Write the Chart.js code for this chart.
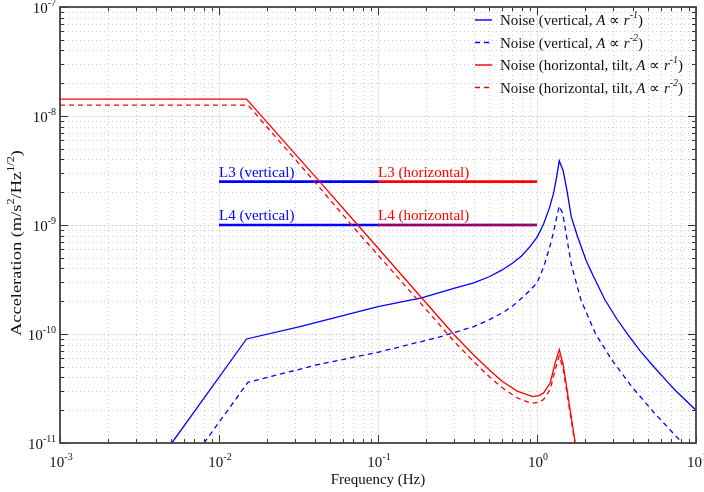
<!DOCTYPE html>
<html>
<head>
<meta charset="utf-8">
<script src="https://cdn.jsdelivr.net/npm/chart.js@4.4.1/dist/chart.umd.min.js"></script>
<style>
  html, body { margin: 0; padding: 0; background: #fff; }
  #wrap { width: 704px; height: 492px; }
</style>
</head>
<body>
<div id="wrap"><canvas id="noiseChart"></canvas></div>
<script>
// --- data (frequency in Hz, acceleration in m/s^2/Hz^1/2) ---
const freqVertR1 = [0.00505, 0.0149, 0.0323, 0.1, 0.188, 0.3, 0.4, 0.5, 0.6, 0.7, 0.8, 0.9, 1.0, 1.1, 1.2, 1.27, 1.33, 1.38, 1.46, 1.55, 1.64, 1.8, 2.04, 2.26, 2.68, 3.17, 3.74, 4.45, 5.5, 6.55, 7.37, 10];
const accVertR1 = [1e-11, 9.0e-11, 1.17e-10, 1.78e-10, 2.15e-10, 2.62e-10, 2.95e-10, 3.35e-10, 3.85e-10, 4.45e-10, 5.2e-10, 6.3e-10, 7.7e-10, 1.02e-9, 1.45e-9, 1.95e-9, 2.77e-9, 3.88e-9, 3.15e-9, 2.0e-9, 1.2e-9, 7.8e-10, 4.7e-10, 3.4e-10, 2.05e-10, 1.38e-10, 9.8e-11, 7.0e-11, 4.9e-11, 3.7e-11, 3.06e-11, 2.0e-11];

const freqVertR2 = [0.00805, 0.0152, 0.041, 0.1, 0.245, 0.4, 0.5, 0.614, 0.7, 0.82, 0.9, 1.0, 1.1, 1.2, 1.27, 1.33, 1.38, 1.45, 1.5, 1.64, 1.89, 2.33, 2.95, 3.94, 5.5, 8.1];
const accVertR2 = [1e-11, 3.6e-11, 5.2e-11, 6.8e-11, 9.4e-11, 1.17e-10, 1.35e-10, 1.58e-10, 1.8e-10, 2.2e-10, 2.5e-10, 2.95e-10, 4.1e-10, 6.2e-10, 8.6e-10, 1.18e-9, 1.49e-9, 1.28e-9, 9.6e-10, 4.4e-10, 2.05e-10, 1.01e-10, 5.8e-11, 3.29e-11, 1.87e-11, 1.02e-11];

const freqHorR1 = [0.001, 0.0149, 0.0431, 0.0751, 0.188, 0.298, 0.398, 0.5, 0.6, 0.75, 0.94, 1.03, 1.1, 1.21, 1.3, 1.38, 1.46, 1.74];
const accHorR1 = [1.43e-8, 1.43e-8, 2.49e-9, 9.9e-10, 2.15e-10, 1.0e-10, 6.45e-11, 4.7e-11, 3.7e-11, 2.99e-11, 2.66e-11, 2.72e-11, 2.88e-11, 3.55e-11, 5.4e-11, 7.2e-11, 5.25e-11, 1e-11];

const freqHorR2 = [0.001, 0.0152, 0.04, 0.0685, 0.188, 0.298, 0.398, 0.5, 0.6, 0.75, 0.92, 1.03, 1.1, 1.21, 1.3, 1.38, 1.46, 1.73];
const accHorR2 = [1.26e-8, 1.26e-8, 2.49e-9, 9.9e-10, 1.87e-10, 8.7e-11, 5.6e-11, 4.07e-11, 3.24e-11, 2.6e-11, 2.31e-11, 2.37e-11, 2.51e-11, 3.09e-11, 4.68e-11, 6.3e-11, 4.8e-11, 1e-11];

// requirement levels
const levelNames = ['L3', 'L4'];
const levelValues = [2.5e-9, 1e-9];
const levelVertFreq = [[0.01, 0.1], [0.01, 1]];
const levelHorFreq = [[0.1, 1], [0.1, 1]];

// axes
const xTickPowers = [-3, -2, -1, 0, 1];
const yTickPowers = [-11, -10, -9, -8, -7];

const legendSetting = ['vertical', 'vertical', 'horizontal, tilt', 'horizontal, tilt'];
const legendExp = ['-1', '-2', '-1', '-2'];

const BLUE = '#0000ff';
const RED = '#ff0000';
const serif = '"Liberation Serif", "Times New Roman", serif';

const pts = (f, a) => f.map((x, i) => ({ x: x, y: a[i] }));

function measureRuns(ctx, runs) {
  let total = 0;
  runs.forEach(r => { ctx.font = r.font; r.w = ctx.measureText(r.t).width; total += r.w; });
  return total;
}

function drawRuns(ctx, runs, x, y, align) {
  const total = measureRuns(ctx, runs);
  let cx = align === 'center' ? x - total / 2 : (align === 'right' ? x - total : x);
  ctx.textAlign = 'left';
  runs.forEach(r => { ctx.font = r.font; ctx.fillText(r.t, cx, y + (r.dy || 0)); cx += r.w; });
  return total;
}

const reg = s => s + 'px ' + serif;
const ital = s => 'italic ' + s + 'px ' + serif;

const gridPlugin = {
  id: 'logGrid',
  beforeDatasetsDraw(chart) {
    const { ctx, chartArea: a, scales: { x, y } } = chart;
    ctx.save();
    ctx.lineWidth = 1;
    for (let p = xTickPowers[0]; p < xTickPowers[xTickPowers.length - 1]; p++) {
      for (let k = 1; k <= 9; k++) {
        const px = Math.round(x.getPixelForValue(k * Math.pow(10, p))) + 0.5;
        if (k === 1) {
          ctx.setLineDash([]); ctx.strokeStyle = '#efefef';
          ctx.beginPath(); ctx.moveTo(px, a.top); ctx.lineTo(px, a.bottom); ctx.stroke();
        }
        ctx.setLineDash([1, 3]); ctx.strokeStyle = '#cdcdcd';
        ctx.beginPath(); ctx.moveTo(px, a.top); ctx.lineTo(px, a.bottom); ctx.stroke();
      }
    }
    for (let p = yTickPowers[0]; p < yTickPowers[yTickPowers.length - 1]; p++) {
      for (let k = 1; k <= 9; k++) {
        const py = Math.round(y.getPixelForValue(k * Math.pow(10, p))) + 0.5;
        if (k === 1) {
          ctx.setLineDash([]); ctx.strokeStyle = '#efefef';
          ctx.beginPath(); ctx.moveTo(a.left, py); ctx.lineTo(a.right, py); ctx.stroke();
        }
        ctx.setLineDash([1, 3]); ctx.strokeStyle = '#cdcdcd';
        ctx.beginPath(); ctx.moveTo(a.left, py); ctx.lineTo(a.right, py); ctx.stroke();
      }
    }
    ctx.restore();
  },
  afterDatasetsDraw(chart) {
    const { ctx, chartArea: a, scales: { x, y } } = chart;
    ctx.save();
    ctx.setLineDash([]);
    // ticks, inward on all four sides
    ctx.strokeStyle = '#333';
    ctx.lineWidth = 1;
    const xMax = Math.pow(10, xTickPowers[xTickPowers.length - 1]) * 1.0001;
    const yMax = Math.pow(10, yTickPowers[yTickPowers.length - 1]) * 1.0001;
    for (let p = xTickPowers[0]; p <= xTickPowers[xTickPowers.length - 1]; p++) {
      for (let k = 1; k <= 9; k++) {
        const v = k * Math.pow(10, p);
        if (v > xMax) break;
        const px = Math.round(x.getPixelForValue(v)) + 0.5;
        const len = k === 1 ? 8 : 4;
        ctx.beginPath();
        ctx.moveTo(px, a.bottom); ctx.lineTo(px, a.bottom - len);
        ctx.moveTo(px, a.top); ctx.lineTo(px, a.top + len);
        ctx.stroke();
      }
    }
    for (let p = yTickPowers[0]; p <= yTickPowers[yTickPowers.length - 1]; p++) {
      for (let k = 1; k <= 9; k++) {
        const v = k * Math.pow(10, p);
        if (v > yMax) break;
        const py = Math.round(y.getPixelForValue(v)) + 0.5;
        const len = k === 1 ? 8 : 4;
        ctx.beginPath();
        ctx.moveTo(a.left, py); ctx.lineTo(a.left + len, py);
        ctx.moveTo(a.right, py); ctx.lineTo(a.right - len, py);
        ctx.stroke();
      }
    }
    // frame
    ctx.strokeStyle = '#444';
    ctx.lineWidth = 1.8;
    ctx.strokeRect(a.left, a.top, a.right - a.left, a.bottom - a.top);

    // tick labels
    ctx.fillStyle = '#111';
    ctx.textBaseline = 'alphabetic';
    xTickPowers.forEach(p => {
      const px = x.getPixelForValue(Math.pow(10, p));
      drawRuns(ctx, [{ t: '10', font: reg(15) }, { t: String(p), font: reg(10), dy: -7 }], px + 1, a.bottom + 24, 'center');
    });
    yTickPowers.forEach(p => {
      const py = y.getPixelForValue(Math.pow(10, p));
      drawRuns(ctx, [{ t: '10', font: reg(15) }, { t: String(p), font: reg(10), dy: -7 }], a.left - 4, py + 6, 'right');
    });

    // axis titles
    drawRuns(ctx, [{ t: 'Frequency (Hz)', font: reg(15) }], (a.left + a.right) / 2, a.bottom + 41, 'center');
    const yTitle = [
      { t: 'Acceleration (m/s', font: reg(15) },
      { t: '2', font: reg(10), dy: -7 },
      { t: '/Hz', font: reg(15) },
      { t: '1/2', font: reg(10), dy: -7 },
      { t: ')', font: reg(15) }
    ];
    const yTitleLen = measureRuns(ctx, yTitle);
    ctx.save();
    ctx.translate(21, 243);
    ctx.rotate(-Math.PI / 2);
    ctx.scale(186 / yTitleLen, 1);
    drawRuns(ctx, yTitle, 0, 0, 'center');
    ctx.restore();

    // level labels
    levelNames.forEach((n, i) => {
      const py = y.getPixelForValue(levelValues[i]) - 5;
      ctx.fillStyle = BLUE;
      drawRuns(ctx, [{ t: n + ' (vertical)', font: reg(15) }], x.getPixelForValue(levelVertFreq[i][0]), py, 'left');
      ctx.fillStyle = RED;
      drawRuns(ctx, [{ t: n + ' (horizontal)', font: reg(15) }], x.getPixelForValue(levelHorFreq[i][0]), py, 'left');
    });

    // legend
    const lx = 475, ly0 = 25, step = 22.5;
    legendSetting.forEach((s, i) => {
      const yy = ly0 + i * step;
      ctx.strokeStyle = i < 2 ? BLUE : RED;
      ctx.lineWidth = 1.4;
      ctx.setLineDash(i % 2 ? [5, 4] : []);
      ctx.beginPath(); ctx.moveTo(lx, yy - 5); ctx.lineTo(lx + 17, yy - 5); ctx.stroke();
      ctx.setLineDash([]);
      ctx.fillStyle = '#111';
      drawRuns(ctx, [
        { t: 'Noise (' + s + ', ', font: reg(15) },
        { t: 'A', font: ital(15) },
        { t: ' \u221d ', font: reg(15) },
        { t: 'r', font: ital(15) },
        { t: legendExp[i], font: ital(10), dy: -7 },
        { t: ')', font: reg(15) }
      ], lx + 25, yy, 'left');
    });
    ctx.restore();
  }
};

const curve = (f, a, color, dashed, order) => ({
  data: pts(f, a),
  borderColor: color,
  borderWidth: 1.3,
  borderDash: dashed ? [5, 4] : [],
  pointRadius: 0,
  tension: 0,
  order: order
});

const levelLine = (f, v, color, width, order) => ({
  data: f.map(fx => ({ x: fx, y: v })),
  borderColor: color,
  borderWidth: width,
  pointRadius: 0,
  tension: 0,
  order: order
});

const datasets = [
  curve(freqHorR1, accHorR1, RED, false, 1),
  curve(freqHorR2, accHorR2, RED, true, 2),
  curve(freqVertR1, accVertR1, BLUE, false, 3),
  curve(freqVertR2, accVertR2, BLUE, true, 4),
  levelLine(levelHorFreq[0], levelValues[0], RED, 2.6, 5),
  levelLine(levelHorFreq[1], levelValues[1], 'rgba(255,0,0,0.6)', 2.6, 5),
  levelLine(levelVertFreq[0], levelValues[0], BLUE, 2.6, 6),
  levelLine(levelVertFreq[1], levelValues[1], BLUE, 2.6, 6)
];

new Chart(document.getElementById('noiseChart'), {
  type: 'line',
  data: { datasets: datasets },
  options: {
    responsive: true,
    maintainAspectRatio: false,
    animation: false,
    layout: { padding: { left: 60, right: 8, top: 7, bottom: 49 } },
    plugins: { legend: { display: false }, tooltip: { enabled: false } },
    scales: {
      x: { type: 'logarithmic', min: 1e-3, max: 10, display: false },
      y: { type: 'logarithmic', min: 1e-11, max: 1e-7, display: false }
    }
  },
  plugins: [gridPlugin]
});
</script>
</body>
</html>
